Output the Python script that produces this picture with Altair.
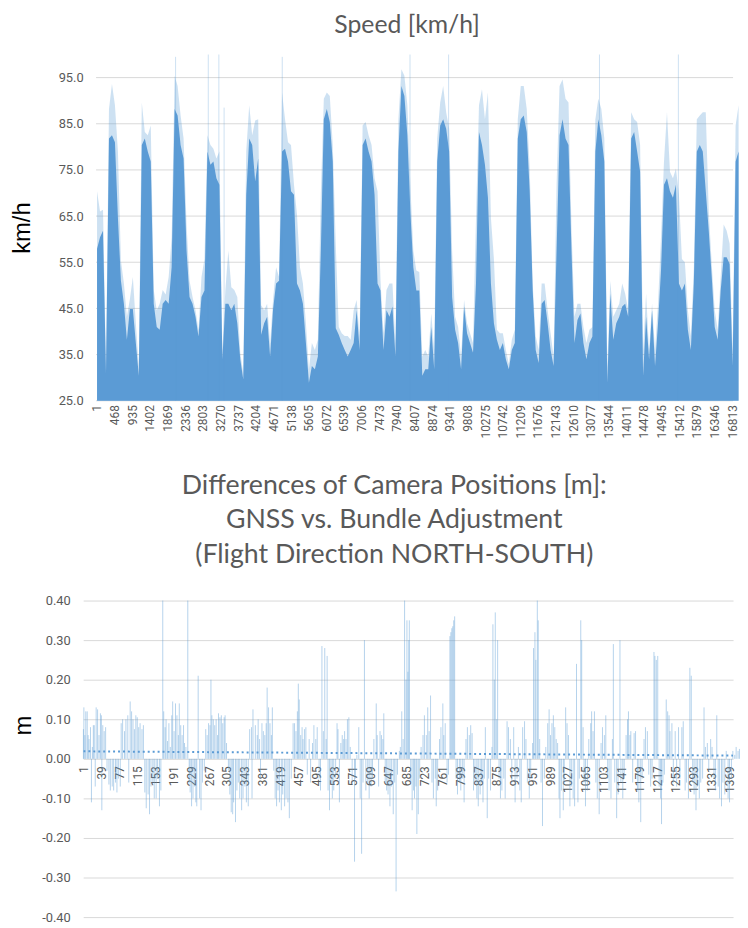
import altair as alt
import pandas as pd

# ---------------- top chart data (speed, sampled every 79th record) ----------------
SPEED_STEP = 79
SPEED_CORE = [
    57.9, 60.4, 61.8, 31.0, 81.8, 82.5, 81.0, 64.6, 51.0, 46.0, 38.2, 44.9, 44.9, 37.5, 30.4, 80.4, 81.8, 79.0,
    76.8, 46.0, 41.0, 40.4, 46.0, 46.8, 46.0, 53.9, 88.2, 86.8, 80.4, 77.5, 57.5, 47.5, 46.0, 43.2, 38.9, 47.5,
    48.9, 79.0, 76.1, 76.8, 73.2, 71.8, 34.0, 46.0, 46.0, 44.6, 46.0, 41.8, 34.0, 29.6, 69.6, 81.8, 80.4, 72.5,
    77.5, 39.3, 41.8, 43.2, 34.6, 44.9, 50.4, 51.0, 79.0, 79.6, 76.8, 70.4, 69.6, 50.4, 48.9, 46.0, 37.5, 28.9,
    32.5, 31.8, 34.6, 57.5, 86.0, 88.2, 85.4, 76.8, 40.7, 39.3, 37.5, 36.0, 34.6, 36.0, 37.5, 44.6, 36.0, 80.4,
    81.8, 79.0, 76.8, 69.6, 50.4, 48.9, 36.0, 44.6, 43.2, 45.4, 34.6, 79.0, 93.2, 91.0, 82.5, 66.0, 53.9, 48.9,
    48.9, 30.4, 31.8, 31.8, 41.0, 31.8, 76.8, 84.6, 86.0, 83.9, 79.0, 47.5, 40.4, 37.5, 31.8, 45.4, 39.6, 37.5,
    35.4, 50.4, 83.2, 80.4, 76.1, 69.0, 50.4, 41.8, 38.2, 36.0, 37.5, 34.0, 31.8, 36.0, 37.5, 81.8, 86.0, 86.8,
    83.2, 70.4, 48.9, 36.0, 33.2, 46.0, 46.8, 41.8, 36.0, 32.5, 57.5, 82.5, 86.0, 81.8, 80.4, 57.5, 37.5, 42.5,
    43.9, 37.5, 34.0, 37.5, 38.9, 79.0, 86.0, 82.5, 76.8, 28.9, 48.2, 38.2, 41.8, 43.2, 45.4, 46.0, 43.2, 81.8,
    83.2, 79.0, 74.6, 30.4, 43.2, 34.0, 44.6, 32.5, 41.8, 53.2, 71.8, 73.2, 70.4, 69.0, 71.8, 50.4, 48.9, 50.4,
    40.4, 36.0, 50.4, 79.0, 80.4, 79.0, 70.4, 61.8, 51.8, 41.0, 38.2, 48.9, 56.1, 56.1, 54.6, 32.5, 76.8, 79.0,
]
SPEED_FRINGE = [
    70.4, 66.0, 66.4, 33.0, 88.2, 93.6, 89.0, 79.0, 55.4, 50.4, 43.2, 47.0, 51.8, 41.8, 32.5, 89.6, 83.2, 82.5,
    84.6, 49.0, 44.6, 46.0, 49.0, 48.0, 51.8, 60.4, 95.4, 93.2, 86.8, 81.8, 63.2, 51.0, 47.5, 44.6, 40.4, 51.8,
    55.7, 82.5, 80.4, 79.6, 77.5, 79.0, 36.0, 49.0, 57.5, 49.6, 49.0, 47.5, 35.4, 31.0, 79.0, 89.0, 82.5, 85.7,
    86.0, 45.7, 44.6, 46.0, 37.5, 47.0, 53.9, 51.8, 91.8, 86.0, 81.0, 80.4, 71.8, 65.4, 53.9, 50.4, 41.8, 31.8,
    37.5, 36.0, 38.2, 70.0, 90.4, 91.8, 91.0, 80.4, 58.9, 41.0, 39.6, 39.0, 39.0, 38.2, 44.6, 46.8, 39.0, 84.6,
    85.4, 82.5, 80.4, 73.2, 70.4, 51.0, 39.6, 49.0, 50.4, 50.4, 37.5, 86.0, 96.8, 95.4, 89.0, 71.8, 57.5, 53.2,
    52.9, 34.6, 36.0, 34.6, 43.9, 36.0, 81.8, 89.6, 93.2, 87.5, 83.9, 57.5, 43.2, 41.0, 34.6, 46.8, 41.8, 39.6,
    37.5, 64.6, 89.0, 92.5, 86.0, 91.8, 64.6, 55.7, 40.4, 39.6, 39.6, 36.0, 33.0, 38.2, 40.4, 86.0, 93.2, 93.2,
    88.2, 75.3, 50.4, 39.0, 36.0, 50.4, 50.4, 44.6, 39.6, 34.6, 71.8, 93.2, 94.6, 90.4, 89.6, 62.5, 43.2, 46.0,
    46.0, 41.0, 37.5, 40.4, 41.0, 86.0, 90.4, 88.2, 81.8, 32.5, 51.0, 43.2, 44.6, 46.0, 50.4, 48.2, 44.6, 87.5,
    86.0, 85.4, 80.4, 36.0, 48.2, 36.0, 46.0, 36.0, 46.0, 60.4, 76.8, 87.5, 74.6, 73.2, 75.3, 69.6, 55.7, 55.0,
    44.6, 39.0, 53.9, 86.0, 86.8, 87.5, 87.5, 66.0, 54.6, 44.6, 40.4, 51.8, 63.2, 61.8, 59.0, 36.0, 84.6, 89.0,
]
SPIKE_IDX = [2080, 2946, 3226, 3365, 4904, 8287, 9309, 13303, 15392]
SPIKE_VAL = [99.5, 100.0, 100.0, 88.5, 99.5, 100.0, 100.0, 100.0, 100.0]
SPEED_Y_TICKS = [25, 35, 45, 55, 65, 75, 85, 95]
SPEED_X_TICKS = [1, 468, 935, 1402, 1869, 2336, 2803, 3270, 3737, 4204, 4671, 5138, 5605, 6072, 6539, 7006,
                 7473, 7940, 8407, 8874, 9341, 9808, 10275, 10742, 11209, 11676, 12143, 12610, 13077, 13544,
                 14011, 14478, 14945, 15412, 15879, 16346, 16813]

# ---------------- bottom chart data ----------------
DIFF_IDX = [
    1, 2, 4, 6, 9, 11, 13, 16, 18, 20, 22, 24, 26, 28, 31, 34, 37, 39, 40, 42, 45, 48, 51, 55, 58, 62, 65, 69, 72,
    75, 79, 81, 84, 88, 91, 95, 97, 100, 103, 106, 109, 112, 115, 118, 121, 125, 128, 131, 134, 138, 141, 144,
    148, 151, 155, 158, 162, 165, 169, 171, 174, 176, 179, 182, 185, 188, 190, 193, 196, 199, 202, 204, 207, 210,
    213, 215, 218, 222, 225, 227, 230, 233, 236, 239, 241, 244, 247, 250, 253, 257, 260, 263, 266, 269, 271, 273,
    276, 279, 282, 285, 287, 290, 293, 296, 299, 301, 304, 308, 311, 314, 317, 319, 323, 326, 329, 332, 336, 339,
    343, 346, 350, 353, 357, 358, 360,
    365, 369, 371, 374, 376, 379, 382, 385, 388, 390, 393, 396, 399, 401, 404, 407, 410, 413, 416, 420, 423, 427,
    430, 434, 437, 441, 445, 448, 451, 454, 456, 458, 461, 464, 466, 469, 472, 475, 479, 482, 486, 489, 493, 496,
    500, 503, 506, 509, 512, 515, 517, 519, 522, 525, 528, 531, 535, 538, 540, 543, 546, 549, 552, 554, 557, 560,
    563, 566, 570, 575, 577, 580, 584, 587, 590, 593, 596, 599, 603, 606, 610, 613, 616, 621, 623, 626, 629, 632,
    635, 637, 640, 643, 646, 650, 653, 657, 660, 663, 666, 670, 672, 675, 678, 681, 684, 686, 688, 690, 691, 694,
    697, 700, 702, 705, 707, 710, 713, 716, 720, 723, 727, 730, 733, 736, 739, 742, 746, 748, 751, 755, 758, 762,
    764, 767, 771, 774, 777, 779, 781, 783, 785, 787, 790, 793, 797, 800, 804, 807, 811, 814, 818, 821, 824, 827,
    830, 834, 837, 841, 844, 847, 850, 852, 856, 859, 863, 866, 868, 871, 873, 876, 878, 881, 884, 887, 891,
    894, 898, 901, 905, 908, 912, 915, 919, 922, 925, 928, 931, 935, 938, 941, 945, 948, 952, 954, 957, 959, 962,
    964, 967, 970, 973, 977, 980, 984, 987, 990, 993, 996, 999, 1002, 1005, 1008, 1010, 1013, 1017, 1019, 1022,
    1025, 1028, 1031, 1034, 1038, 1041, 1045, 1048, 1051, 1054, 1056, 1059, 1061, 1064, 1068, 1071, 1075, 1077,
    1080, 1083, 1086, 1089, 1093, 1097, 1100, 1104, 1107, 1111, 1114, 1118, 1121, 1123, 1126, 1130, 1133, 1137,
    1139, 1143, 1146, 1150, 1153, 1155, 1158, 1160, 1164, 1167, 1170, 1174, 1177, 1181, 1184, 1188, 1191, 1195,
    1198, 1202, 1205, 1209, 1211, 1214, 1217, 1220, 1223, 1225, 1228, 1231, 1235, 1238, 1241, 1243, 1247, 1250,
    1254, 1257, 1261, 1264, 1268, 1271, 1275, 1278, 1282, 1285, 1288, 1291, 1294, 1298, 1301, 1305, 1308, 1312,
    1315, 1318, 1322, 1325, 1329, 1332, 1336, 1339, 1342, 1345, 1348, 1352, 1355, 1359, 1362, 1366, 1369, 1373,
    1376, 1380, 1383, 1387, 1390,
]
DIFF_VAL = [
    0.075, 0.13, 0.06, 0.12, 0.12, 0.06, 0.05, 0.08, -0.11, 0.03, 0.085, 0.085, -0.07, 0.13, 0.125, 0.06, 0.115,
    0.11, -0.13, 0.085, 0.07, 0.08, -0.03, -0.065, -0.08, -0.07, -0.08, -0.06, -0.085, -0.05, -0.07, 0.09, 0.1,
    0.07, 0.1, 0.11, -0.06, 0.145, 0.12, 0.1, 0.075, 0.11, 0.105, 0.08, 0.09, 0.075, 0.085, -0.085, -0.125, -0.09,
    -0.14, -0.07, -0.06, -0.1, -0.1, -0.05, -0.12, -0.08, 0.40, 0.12, 0.08, 0.1, 0.045, 0.09, 0.03, 0.11, 0.145,
    0.07, 0.14, 0.11, 0.06, 0.14, 0.085, 0.06, 0.085, 0.04, 0.03, 0.40, -0.06, -0.085, -0.12, -0.1, -0.07, -0.11,
    -0.12, 0.21, -0.1, -0.13, -0.06, -0.03, 0.075, 0.06, 0.09, 0.085, 0.2, 0.11, 0.1, 0.085, 0.1, 0.06, 0.115,
    0.105, 0.11, 0.09, 0.105, 0.11, 0.04, -0.03, -0.09, -0.135, -0.14, -0.11, -0.16, -0.08, -0.06, -0.1, -0.13,
    -0.1, -0.07, -0.11, -0.12, 0.075, 0.08, -0.1, 0.125,
    0.085, 0.06, 0.1, 0.05, -0.05, 0.09, 0.07, 0.06, 0.09, 0.18, 0.13, 0.09, 0.06, 0.13, -0.03, -0.1, -0.12,
    -0.08, -0.11, -0.13, -0.09, -0.12, -0.1, -0.11, -0.15, -0.05, 0.09, 0.09, 0.07, 0.12, 0.19, 0.15, 0.06, 0.08,
    0.05, 0.075, 0.08, -0.04, 0.05, -0.06, 0.04, 0.085, 0.05, 0.08, -0.05, -0.08, 0.285, 0.07, 0.28, 0.05, 0.26,
    -0.08, -0.13, -0.06, -0.1, -0.08, -0.05, 0.09, 0.075, -0.11, 0.04, 0.06, 0.05, 0.07, 0.05, 0.1, 0.105, 0.03,
    -0.06, -0.26, -0.05, 0.01, 0.08, -0.1, -0.24, -0.06, 0.30, -0.08, -0.06, -0.1, -0.07, -0.05, 0.05, 0.14, 0.06,
    -0.07, 0.07, 0.06, 0.05, 0.115, -0.06, -0.08, -0.09, -0.12, -0.07, -0.14, -0.06, -0.335, -0.04, 0.02, 0.03,
    0.12, 0.05, 0.40, 0.2, 0.35, 0.22, 0.30, 0.35, -0.06, -0.13, -0.08, -0.1, -0.07, -0.19, -0.14, -0.05, 0.03,
    0.06, 0.11, 0.06, 0.13, 0.07, 0.16, -0.06, -0.1, -0.05, -0.12, -0.08, 0.05, 0.08, 0.14, 0.06, 0.09, -0.06,
    -0.04, 0.31, 0.32, 0.33, 0.335, 0.35, 0.36, -0.05, -0.09, -0.06, -0.08, -0.05, -0.11, 0.05, 0.08, 0.06, 0.085,
    0.065, -0.08, -0.06, -0.1, -0.12, -0.09, -0.06, -0.11, -0.05, 0.08, -0.15, -0.05, -0.08, 0.03, 0.34, 0.2,
    0.37, 0.1, 0.30, -0.05, -0.1, -0.08, -0.05,
    -0.1, 0.095, 0.08, 0.05, -0.06, 0.08, -0.11, -0.05, 0.03, -0.08, -0.11, 0.08, 0.095, 0.05, -0.06, -0.1, -0.05,
    0.04, 0.28, 0.32, 0.25, 0.40, 0.35, 0.05, -0.06, -0.17, -0.05, 0.03, 0.09, 0.125, 0.06, 0.09, 0.11, 0.08, 0.05,
    0.04, -0.1, -0.15, -0.08, -0.13, -0.06, 0.13, 0.09, 0.06, -0.12, -0.07, -0.1, -0.12, 0.24, -0.11, -0.05, 0.35,
    0.30, 0.08, -0.06, -0.12, -0.08, 0.05, 0.09, 0.12, 0.07, 0.12, -0.06, -0.1, -0.14, 0.04, 0.08, 0.06, 0.11,
    -0.05, -0.08, -0.1, 0.05, 0.29, -0.06, -0.15, -0.09, 0.30, -0.06, -0.1, -0.05, 0.06, 0.1, 0.12, 0.06, 0.07,
    -0.06, 0.065, 0.07, -0.08, -0.11, -0.16, -0.05, 0.05, 0.08, 0.07, -0.04, -0.07, -0.05, 0.27, 0.26, 0.25, 0.26,
    -0.07, -0.1, -0.165, -0.06, -0.04, 0.15, 0.12, 0.11, 0.07, 0.09, -0.06, 0.07, -0.07, 0.08, -0.05, 0.08, 0.095,
    -0.08, -0.06, -0.1, 0.23, 0.21, -0.06, -0.09, -0.13, -0.07, -0.1, -0.06, -0.05, 0.13, 0.03, 0.04, -0.03, 0.05,
    0.03, -0.05, -0.08, 0.11, -0.07, -0.1, -0.12, -0.06, -0.09, 0.02, -0.1, -0.11, -0.05, 0.02, 0.01, 0.03, 0.02,
    0.025,
]
TREND_IDX = [1, 1392]
TREND_VAL = [0.019, 0.008]
DIFF_Y_TICKS = [-0.4, -0.3, -0.2, -0.1, 0.0, 0.1, 0.2, 0.3, 0.4]
DIFF_X_TICKS = [1, 39, 77, 115, 153, 191, 229, 267, 305, 343, 381, 419, 457, 495, 533, 571, 609, 647, 685,
                723, 761, 799, 837, 875, 913, 951, 989, 1027, 1065, 1103, 1141, 1179, 1217, 1255, 1293, 1331, 1369]

n = min(len(SPEED_CORE), len(SPEED_FRINGE))
speed_df = pd.DataFrame({
    "idx": [1 + SPEED_STEP * k for k in range(n)],
    "core": SPEED_CORE[:n],
    "fringe": SPEED_FRINGE[:n],
})
spike_df = pd.DataFrame({"idx": SPIKE_IDX, "val": SPIKE_VAL})
sgrid_df = pd.DataFrame({"v": SPEED_Y_TICKS})
m = min(len(DIFF_IDX), len(DIFF_VAL))
diff_df = pd.DataFrame({"idx": DIFF_IDX[:m], "val": DIFF_VAL[:m]})
trend_df = pd.DataFrame({"idx": TREND_IDX, "val": TREND_VAL})

BLUE = "#5B9BD5"
GRID = "#D9D9D9"
LABEL = "#595959"
TFONT = "Lato"
LFONT = "Roboto"

W = 657
TOP_H = 350
BOT_H = 320
TOP_X0, TOP_X1 = -366, 16840
TOP_START = -25

xs_top = alt.Scale(domain=[TOP_X0, TOP_X1], nice=False, zero=False)
ys_top = alt.Scale(domain=[25, 100], nice=False, zero=False)

top_x_axis = alt.Axis(values=SPEED_X_TICKS, tickCount=100, format="d", labelAngle=-90, grid=False, ticks=False,
                      tickSize=0, domain=False, labelPadding=4, labelFontSize=12, labelColor=LABEL,
                      labelFont=LFONT, labelOverlap=False, labelFlush=False, title=None)
top_y_axis = alt.Axis(values=SPEED_Y_TICKS, tickCount=100, format=".1f", grid=False, ticks=False, tickSize=0,
                      domain=False, offset=-13, labelPadding=13, labelFontSize=13, labelColor=LABEL,
                      labelFont=LFONT, labelOverlap=False,
                      title="km/h", titleFont="Liberation Sans", titleFontSize=24, titleFontWeight="normal",
                      titleColor="#000000", titleAngle=-90, titleAlign="center", titleBaseline="middle",
                      titleX=-74, titleY=175)

grid_top = alt.Chart(sgrid_df).mark_rule(color=GRID, strokeWidth=1).encode(
    y=alt.Y("v:Q", scale=ys_top, axis=top_y_axis),
    x=alt.datum(TOP_START, scale=xs_top),
    x2=alt.datum(TOP_X1),
)
fringe = alt.Chart(speed_df).mark_area(color=BLUE, opacity=0.3).encode(
    x=alt.X("idx:Q", scale=xs_top, axis=top_x_axis),
    y=alt.Y("fringe:Q", scale=ys_top),
    y2=alt.datum(25),
)
core = alt.Chart(speed_df).mark_area(color=BLUE, opacity=1).encode(
    x=alt.X("idx:Q", scale=xs_top),
    y=alt.Y("core:Q", scale=ys_top),
    y2=alt.datum(25),
)
spikes = alt.Chart(spike_df).mark_rule(color=BLUE, opacity=0.3, strokeWidth=1).encode(
    x=alt.X("idx:Q", scale=xs_top),
    y=alt.Y("val:Q", scale=ys_top),
    y2=alt.datum(25),
)
top = alt.layer(grid_top, fringe, core, spikes).properties(
    width=W, height=TOP_H,
    title=alt.TitleParams("Speed [km/h]", font=TFONT, fontSize=25, fontWeight="normal", color=LABEL,
                          anchor="middle", frame="group", baseline="alphabetic", offset=-4, dx=-1),
)

xs_bot = alt.Scale(domain=[0.5, 1376.5], nice=False, zero=False)
ys_bot = alt.Scale(domain=[-0.4, 0.4], nice=False, zero=False)
bot_x_axis = alt.Axis(values=DIFF_X_TICKS, tickCount=100, format="d", labelAngle=-90, grid=False, ticks=False,
                      tickSize=0, domain=False, offset=-BOT_H / 2, labelPadding=7, labelFontSize=12,
                      labelColor=LABEL, labelFont=LFONT, labelOverlap=False, labelFlush=False, title=None)
bot_y_axis = alt.Axis(values=DIFF_Y_TICKS, tickCount=100, grid=True, gridColor=GRID, gridWidth=1, ticks=False,
                      tickSize=0, domain=False, labelPadding=13, labelFontSize=13, labelColor=LABEL,
                      labelFont=LFONT, labelOverlap=False,
                      labelExpr="replace(format(datum.value, '.2f'), '\u2212', '-')",
                      title="m", titleFont="Liberation Sans", titleFontSize=24, titleFontWeight="normal",
                      titleColor="#000000", titleAngle=-90, titleAlign="center", titleBaseline="middle",
                      titleX=-60, titleY=126)
bars = alt.Chart(diff_df).mark_rule(color=BLUE, opacity=0.45, strokeWidth=1).encode(
    x=alt.X("idx:Q", scale=xs_bot, axis=bot_x_axis),
    y=alt.Y("val:Q", scale=ys_bot, axis=bot_y_axis),
    y2=alt.datum(0),
)
trend = alt.Chart(trend_df).mark_line(color=BLUE, strokeWidth=2, strokeDash=[2, 3], clip=True).encode(
    x=alt.X("idx:Q", scale=xs_bot),
    y=alt.Y("val:Q", scale=ys_bot),
)
bottom = alt.layer(bars, trend).properties(
    width=W, height=BOT_H,
    title=alt.TitleParams(["Differences of Camera Positions [m]:", "GNSS vs. Bundle Adjustment",
                           "(Flight Direction NORTH-SOUTH)"],
                          font=TFONT, fontSize=27, fontWeight="normal", color=LABEL, lineHeight=35,
                          anchor="middle", frame="group", baseline="bottom", offset=-1, dx=-14),
)

chart = alt.vconcat(top, bottom, spacing=34).properties(
    padding={"left": 3, "top": 0, "right": 0, "bottom": 0},
).configure_view(stroke=None)

chart.save("out.html", embed_options={"renderer": "svg", "actions": False})
